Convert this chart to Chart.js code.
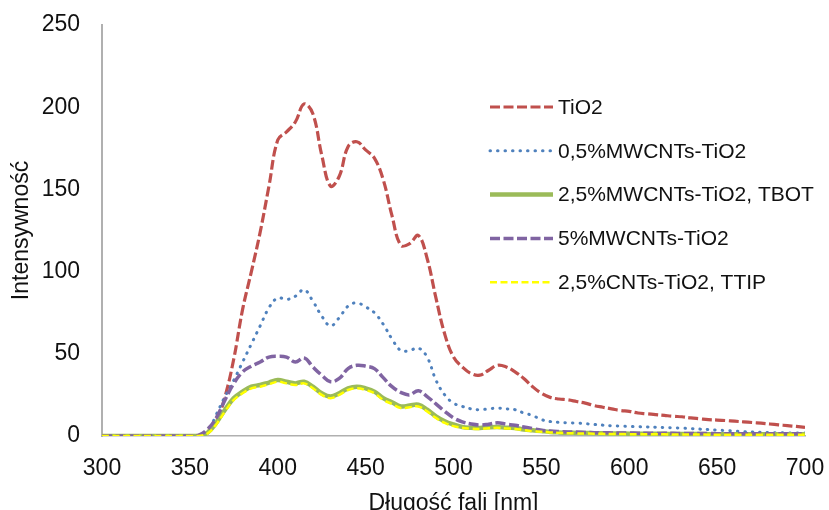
<!DOCTYPE html>
<html lang="pl">
<head>
    <meta charset="UTF-8">
    <title>Intensywność - długość fali</title>
    <script src="https://cdn.jsdelivr.net/npm/chart.js"></script>
    <style>
        body { margin: 0; background: #fff; }
    </style>
</head>
<body>
    <canvas id="spectrumChart" width="829" height="510"></canvas>

    <script>
        // wavelength [nm], every 5 nm
        const wavelengths = [
            300, 305, 310, 315, 320, 325, 330, 335, 340,
            345, 350, 355, 360, 365, 370, 375, 380, 385,
            390, 395, 400, 405, 410, 415, 420, 425, 430,
            435, 440, 445, 450, 455, 460, 465, 470, 475,
            480, 485, 490, 495, 500, 505, 510, 515, 520,
            525, 530, 535, 540, 545, 550, 555, 560, 565,
            570, 575, 580, 585, 590, 595, 600, 605, 610,
            615, 620, 625, 630, 635, 640, 645, 650, 655,
            660, 665, 670, 675, 680, 685, 690, 695, 700
        ];

        const seriesNames = [
            'TiO2',
            '0,5%MWCNTs-TiO2',
            '2,5%MWCNTs-TiO2, TBOT',
            '5%MWCNTs-TiO2',
            '2,5%CNTs-TiO2, TTIP'
        ];

        const tio2 = [
            0, 0, 0, 0, 0, 0, 0, 0, 0,
            0, 0, 0, 3, 9, 24, 47, 77, 100,
            124, 152, 180, 185, 191, 202, 196, 171, 152,
            158, 176, 179, 174, 169, 156, 134, 116, 117,
            122, 108, 84, 62, 48, 42, 38, 37, 40,
            43, 42, 39, 35, 30, 26, 23.5, 22.5, 22,
            21, 20, 18.5, 17.5, 16.5, 15.5, 15, 14, 13.5,
            13, 12.5, 12, 11.7, 11, 10.5, 10, 9.7, 9.4,
            9, 8.6, 8.2, 7.8, 7.3, 6.8, 6.3, 5.8, 5.3
        ];

        const mw05 = [
            0, 0, 0, 0, 0, 0, 0, 0, 0,
            0, 0, 0, 2, 13, 24, 34, 45, 56,
            67, 78, 84, 83, 85, 89, 82, 73, 67,
            72, 79, 81, 78.5, 75, 68, 59, 52, 52,
            53.5, 48, 34, 25, 20, 18, 16.5, 16, 16.5,
            17, 16.5, 16, 14, 12.5, 10, 8.8, 8.3, 8,
            7.9, 7.5, 7, 6.6, 6.2, 6, 5.8, 5.6, 5.5,
            5.3, 5.1, 5, 4.8, 4.5, 4.2, 3.9, 3.6, 3.3,
            3, 2.7, 2.4, 2.2, 2.1, 2, 1.9, 1.8, 1.8
        ];

        const mw25tbot = [
            0, 0, 0, 0, 0, 0, 0, 0, 0,
            0, 0, 0, 2, 8, 16, 23, 27, 30,
            31, 32.5, 34, 33, 32, 33, 30, 26, 24,
            26, 29, 30, 29, 27, 23, 20.5, 18, 18.5,
            19, 16, 12, 9, 7, 5.5, 5, 4.9, 5.3,
            5.5, 5, 4.9, 4, 3.5, 3, 2.5, 2.2, 2,
            1.9, 1.8, 1.7, 1.6, 1.5, 1.5, 1.4, 1.4, 1.3,
            1.3, 1.3, 1.2, 1.2, 1.2, 1.2, 1.1, 1.1, 1.1,
            1.1, 1, 1, 1, 1, 1, 1, 1, 1
        ];

        const mw5 = [
            0, 0, 0, 0, 0, 0, 0, 0, 0,
            0, 0, 0.5, 4, 11, 22, 32, 39, 42.5,
            45, 48, 48.5, 48, 45, 47.5, 42, 37, 33,
            35, 41, 43, 42.5, 41, 35.5, 30, 26.5, 25,
            27.5, 24, 19.5, 15, 11, 8.6, 7.3, 6.7, 7.2,
            8, 7.2, 6.5, 5.5, 4.5, 3.5, 3, 2.7, 2.5,
            2.4, 2.2, 2, 2, 1.9, 1.8, 1.8, 1.7, 1.7,
            1.6, 1.6, 1.6, 1.5, 1.5, 1.5, 1.5, 1.4, 1.4,
            1.4, 1.4, 1.4, 1.3, 1.3, 1.3, 1.3, 1.3, 1.3
        ];

        const cnt25ttip = [
            0, 0, 0, 0, 0, 0, 0, 0, 0,
            0, 0, 0, 1.5, 7, 15, 22, 26, 29,
            30, 31.5, 33, 32, 31, 32, 29, 25, 23,
            25, 28, 29, 28, 26, 22, 19.5, 17, 17.5,
            18, 15, 11, 8, 6, 5, 4.5, 4.3, 4.7,
            5, 4.6, 4.3, 3.6, 3, 2.6, 2.2, 1.9, 1.7,
            1.6, 1.5, 1.4, 1.3, 1.2, 1.2, 1.1, 1.1, 1,
            1, 1, 0.9, 0.9, 0.9, 0.9, 0.8, 0.8, 0.8,
            0.8, 0.8, 0.7, 0.7, 0.7, 0.7, 0.7, 0.7, 0.7
        ];

        const xTicks = [300, 350, 400, 450, 500, 550, 600, 650, 700];
        const yTicks = [0, 50, 100, 150, 200, 250];

        const FONT = '"Liberation Sans", Arial, sans-serif';
        Chart.defaults.font.family = FONT;
        Chart.defaults.color = '#111';

        const pairs = vals => vals.map((v, i) => ({ x: wavelengths[i], y: v }));

        // legend drawn inside the plot, on the right
        const sideLegend = {
            id: 'sideLegend',
            afterDraw(chart) {
                const ctx = chart.ctx;
                ctx.save();
                ctx.font = '21px ' + FONT;
                ctx.textBaseline = 'middle';
                ctx.fillStyle = '#111';
                chart.data.datasets.forEach((ds, i) => {
                    const y = 107 + i * 43.8;
                    ctx.beginPath();
                    ctx.strokeStyle = ds.borderColor;
                    ctx.lineWidth = ds.borderWidth;
                    ctx.lineCap = ds.borderCapStyle || 'butt';
                    ctx.setLineDash(ds.borderDash || []);
                    ctx.moveTo(490, y);
                    ctx.lineTo(553, y);
                    ctx.stroke();
                    ctx.setLineDash([]);
                    ctx.fillText(ds.label, 558, y + 1);
                });
                ctx.restore();
            }
        };

        const ctx = document.getElementById('spectrumChart').getContext('2d');
        new Chart(ctx, {
            type: 'line',
            data: {
                datasets: [
                    { label: seriesNames[0], data: pairs(tio2), borderColor: '#C0504D', borderWidth: 3.2, borderDash: [10, 3.5], order: 5 },
                    { label: seriesNames[1], data: pairs(mw05), borderColor: '#4F81BD', borderWidth: 3, borderDash: [0.5, 7], borderCapStyle: 'round', order: 4 },
                    { label: seriesNames[2], data: pairs(mw25tbot), borderColor: '#9BBB59', borderWidth: 4.5, order: 3 },
                    { label: seriesNames[3], data: pairs(mw5), borderColor: '#8064A2', borderWidth: 3.5, borderDash: [10, 3.5], order: 2 },
                    { label: seriesNames[4], data: pairs(cnt25ttip), borderColor: '#FFFF00', borderWidth: 2.5, borderDash: [7, 3.5], order: 1 }
                ]
            },
            options: {
                responsive: false,
                animation: false,
                devicePixelRatio: 1,
                layout: { padding: { top: 25, right: 24, left: 0, bottom: 0 } },
                elements: {
                    point: { radius: 0 },
                    line: { tension: 0.4, fill: false }
                },
                plugins: {
                    legend: { display: false },
                    tooltip: { enabled: false }
                },
                scales: {
                    x: {
                        type: 'linear',
                        min: 300,
                        max: 700,
                        afterBuildTicks: s => { s.ticks = xTicks.map(v => ({ value: v })); },
                        afterFit: s => { s.height = 74; s.paddingLeft = 0; s.paddingRight = 0; },
                        grid: { display: false, drawTicks: false },
                        border: { display: true, color: '#b0b0b0', width: 1.5 },
                        ticks: { font: { size: 23 }, padding: 19, maxRotation: 0 },
                        title: {
                            display: true,
                            text: 'Długość fali [nm]',
                            font: { size: 23 },
                            padding: { top: 0, bottom: -7 }
                        }
                    },
                    y: {
                        min: 0,
                        max: 250,
                        afterBuildTicks: s => { s.ticks = yTicks.map(v => ({ value: v })); },
                        afterFit: s => { s.width = 102; s.paddingTop = 0; s.paddingBottom = 0; },
                        grid: { display: false, drawTicks: false },
                        border: { display: true, color: '#b0b0b0', width: 2 },
                        ticks: { font: { size: 23 }, padding: 22 },
                        title: {
                            display: true,
                            text: 'Intensywność',
                            font: { size: 23 },
                            padding: { top: 8, bottom: 0 }
                        }
                    }
                }
            },
            plugins: [sideLegend]
        });
    </script>
</body>
</html>
